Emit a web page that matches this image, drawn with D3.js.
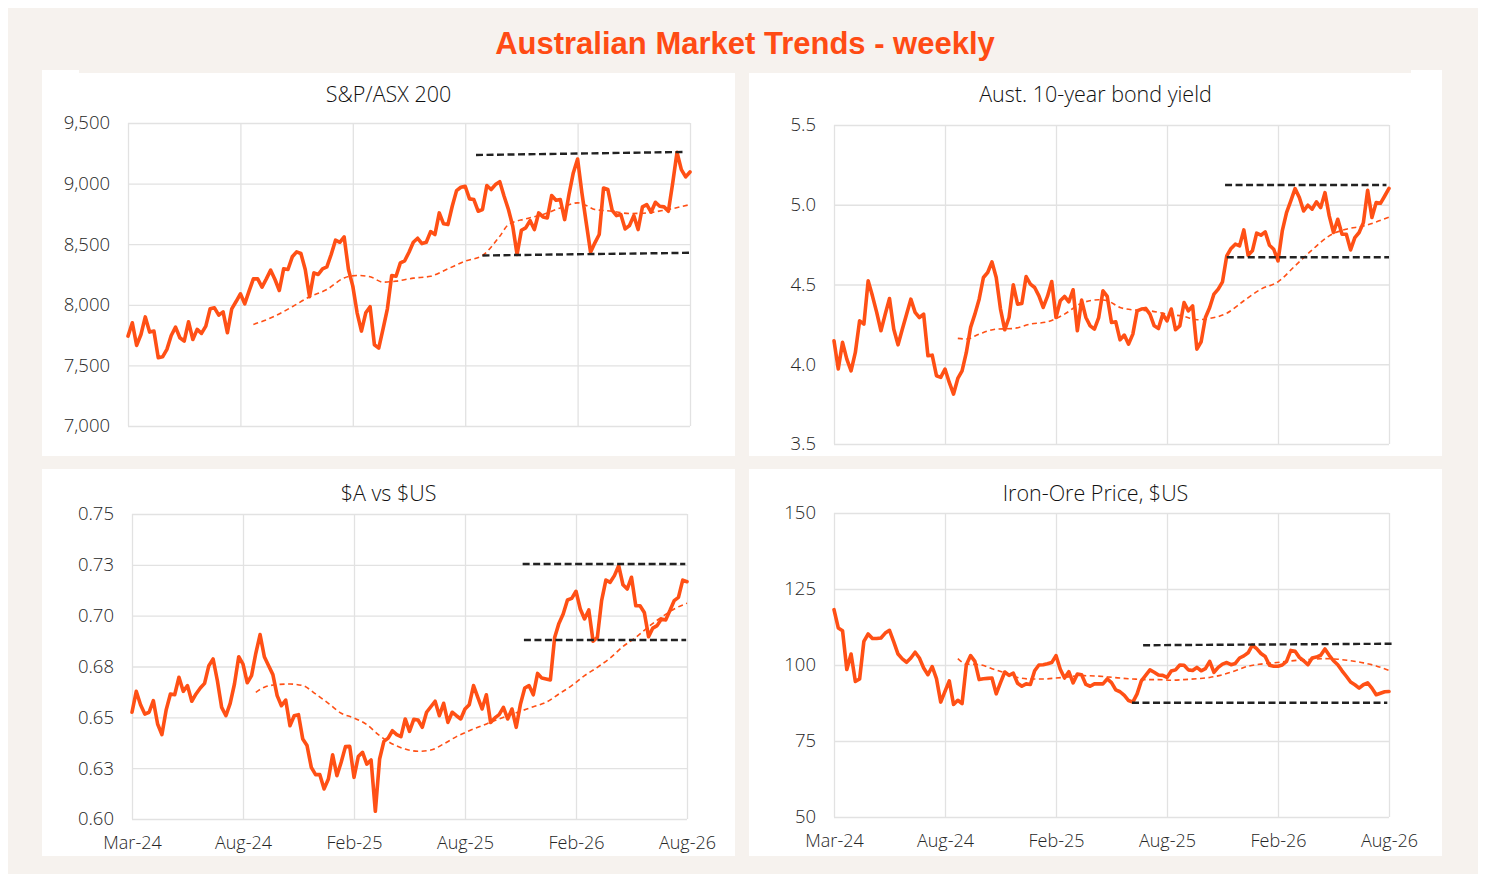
<!DOCTYPE html>
<html><head><meta charset="utf-8">
<script src="https://cdn.jsdelivr.net/npm/d3@7"></script>
<style>
html,body{margin:0;padding:0;background:#fff;}
svg{display:block;}
</style></head>
<body>
<svg id="chart" width="1486" height="882"></svg>
<script>
// ---------- DATA ----------
const xTickIdx = [0, 26, 52, 78, 104, 130];
const xTickLabels = ["Mar-24", "Aug-24", "Feb-25", "Aug-25", "Feb-26", "Aug-26"];

const asxValues = [7742,7852,7665,7755,7900,7775,7783,7563,7571,7632,
7747,7816,7728,7700,7860,7714,7797,7764,7824,7967,
7975,7915,7942,7769,7967,8027,8091,8008,8113,8214,
8214,8146,8214,8286,8209,8118,8297,8291,8396,8437,
8423,8291,8066,8264,8250,8297,8313,8415,8533,8516,
8560,8291,8154,7934,7783,7934,7984,7670,7643,7802,
7967,8242,8236,8346,8363,8434,8516,8549,8505,8516,
8604,8580,8758,8668,8662,8813,8942,8970,8978,8874,
8868,8772,8786,8984,8951,8992,9016,8896,8786,8648,
8415,8615,8635,8695,8621,8758,8725,8717,8901,8863,
8868,8703,8909,9088,9203,8923,8676,8434,8511,8580,
8964,8951,8780,8736,8745,8626,8654,8736,8621,8808,
8827,8764,8846,8813,8808,8772,9005,9258,9115,9055,
9096];
const asxMAIdx = [29,34,38,42,46,50,53,56,59,62,66,70,74,78,82,86,88,92,96,100,104,106,108,112,116,120,124,130];
const asxMAValues = [7838,7907,7984,8066,8126,8222,8242,8231,8187,8195,8220,8236,8297,8360,8407,8566,8662,8709,8745,8799,8841,8819,8786,8772,8753,8758,8780,8827];
const asxLevels = [{from:80.5, to:129, start:9236, end:9261},{from:82, to:130, start:8407, end:8429}];
const asxTicks = [7000, 7500, 8000, 8500, 9000, 9500];
const asxTickLabels = ["7,000", "7,500", "8,000", "8,500", "9,000", "9,500"];

const bondValues = [4.147,3.970,4.137,4.032,3.959,4.074,4.272,4.252,4.523,4.429,
4.325,4.210,4.314,4.412,4.220,4.122,4.220,4.314,4.408,4.325,
4.293,4.314,4.053,4.057,3.928,3.918,3.970,3.886,3.813,3.911,
3.959,4.074,4.231,4.314,4.408,4.544,4.575,4.642,4.544,4.346,
4.216,4.293,4.498,4.377,4.381,4.550,4.502,4.481,4.429,4.356,
4.425,4.519,4.293,4.398,4.425,4.391,4.467,4.210,4.402,4.293,
4.241,4.220,4.293,4.460,4.425,4.262,4.266,4.153,4.183,4.126,
4.189,4.335,4.346,4.350,4.314,4.241,4.224,4.314,4.272,4.346,
4.216,4.241,4.387,4.335,4.366,4.095,4.141,4.293,4.356,4.440,
4.471,4.517,4.680,4.726,4.753,4.742,4.842,4.684,4.711,4.822,
4.809,4.830,4.746,4.721,4.648,4.836,4.951,5.024,5.101,5.045,
4.961,4.997,4.972,5.018,4.982,5.076,4.930,4.826,4.909,4.815,
4.815,4.717,4.794,4.826,4.888,5.091,4.920,5.014,5.009,5.055,
5.103];
const bondMAIdx = [29,31,34,38,42,46,50,54,58,62,64,67,70,74,78,82,85,88,92,96,100,104,108,112,116,120,124,127,130];
const bondMAValues = [4.162,4.158,4.189,4.220,4.224,4.252,4.266,4.314,4.383,4.404,4.398,4.356,4.341,4.335,4.314,4.300,4.279,4.287,4.320,4.398,4.471,4.517,4.617,4.717,4.805,4.847,4.867,4.892,4.922];
const bondLevels = [{from:91.6, to:129.4, start:5.124, end:5.124},{from:92, to:130, start:4.671, end:4.671}];
const bondTicks = [3.5, 4.0, 4.5, 5.0, 5.5];
const bondTickLabels = ["3.5", "4.0", "4.5", "5.0", "5.5"];

const audValues = [0.6525,0.6628,0.6562,0.6516,0.6525,0.6582,0.6467,0.6415,0.6536,0.6615,
0.6611,0.6697,0.6628,0.6656,0.6579,0.6615,0.6644,0.6667,0.6754,0.6787,
0.6680,0.6549,0.6508,0.6569,0.6664,0.6798,0.6762,0.6670,0.6705,0.6815,
0.6907,0.6798,0.6754,0.6710,0.6607,0.6557,0.6585,0.6459,0.6508,0.6513,
0.6393,0.6361,0.6254,0.6218,0.6218,0.6148,0.6197,0.6316,0.6213,0.6279,
0.6356,0.6357,0.6205,0.6307,0.6328,0.6270,0.6290,0.6038,0.6295,0.6382,
0.6398,0.6434,0.6415,0.6405,0.6492,0.6431,0.6490,0.6487,0.6451,0.6525,
0.6552,0.6579,0.6508,0.6569,0.6475,0.6525,0.6508,0.6492,0.6541,0.6562,
0.6656,0.6598,0.6541,0.6611,0.6475,0.6497,0.6513,0.6549,0.6492,0.6541,
0.6451,0.6566,0.6644,0.6656,0.6611,0.6716,0.6693,0.6689,0.6684,0.6893,
0.6962,0.7008,0.7077,0.7085,0.7120,0.7033,0.6984,0.7028,0.6874,0.6893,
0.7074,0.7175,0.7164,0.7197,0.7246,0.7152,0.7131,0.7189,0.7049,0.7049,
0.7016,0.6897,0.6939,0.6951,0.6984,0.6979,0.7025,0.7074,0.7090,0.7175,
0.7167];
const audMAIdx = [29,31,34,37,40,43,46,49,52,55,58,61,64,67,70,73,76,79,82,85,88,91,94,97,100,103,106,109,112,115,118,121,124,127,130];
const audMAValues = [0.6623,0.6648,0.6661,0.6664,0.6656,0.6615,0.6569,0.6520,0.6497,0.6464,0.6410,0.6369,0.6344,0.6333,0.6339,0.6369,0.6405,0.6434,0.6459,0.6484,0.6508,0.6530,0.6552,0.6574,0.6615,0.6656,0.6705,0.6746,0.6792,0.6848,0.6893,0.6946,0.6992,0.7033,0.7061];
const audLevels = [{from:91.5, to:129.6, start:0.7254, end:0.7254},{from:91.8, to:129.8, start:0.688, end:0.688}];
const audTicks = [0.6, 0.625, 0.65, 0.675, 0.7, 0.725, 0.75];
const audTickLabels = ["0.60", "0.63", "0.65", "0.68", "0.70", "0.73", "0.75"];

const ironValues = [118.2,112.2,111.3,98.5,103.6,94.6,95.4,107.8,110.2,108.7,
108.7,108.9,110.5,111.4,107.6,103.6,102.0,100.9,102.3,104.2,
102.3,99.0,96.8,99.5,95.5,87.8,91.3,94.8,87.0,88.4,
87.3,100.1,103.1,101.2,95.2,95.5,95.6,95.7,90.5,94.2,
97.7,96.6,97.3,94.0,93.0,93.8,93.6,98.1,100.0,100.1,
100.4,100.8,103.1,98.6,95.7,97.8,94.1,97.0,96.8,93.6,
93.0,93.8,93.8,93.8,95.4,94.2,91.8,91.2,90.0,88.3,
87.8,90.5,94.8,96.6,98.4,97.6,96.7,96.6,95.9,98.0,
98.4,100.0,99.9,98.4,98.2,99.2,98.1,98.8,101.2,97.6,
99.2,100.3,100.8,100.1,100.5,102.3,103.0,104.0,106.5,105.4,
103.8,102.8,99.9,99.6,99.6,100.0,101.2,104.8,104.5,102.5,
101.4,100.1,102.3,102.6,103.2,105.3,103.2,101.4,100.1,98.1,
96.3,94.4,93.5,92.4,93.5,94.1,92.4,90.2,90.7,91.2,
91.3];
const ironMAIdx = [29,31,34,37,40,43,46,49,52,55,58,61,64,67,70,73,76,79,82,85,88,91,94,97,100,103,106,109,112,115,118,121,124,127,130];
const ironMAValues = [102.1,100.3,100.1,98.8,97.4,95.9,95.4,95.4,95.7,96.1,96.5,96.4,96.1,95.7,95.4,95.2,95.2,95.0,95.2,95.5,95.9,96.8,98.1,99.6,100.3,100.7,101.2,101.6,101.9,102.1,101.9,101.4,100.7,99.7,98.2];
const ironLevels = [{from:72.4, to:130.6, start:106.5, end:107.0},{from:69.8, to:129.6, start:87.6, end:87.6}];
const ironTicks = [50, 75, 100, 125, 150];
const ironTickLabels = ["50", "75", "100", "125", "150"];

const chartTitle = "Australian Market Trends - weekly";

// ---------- STYLE / LAYOUT ----------
const ORANGE = "#FF5015";
const BEIGE = "#F6F2EE";
const GRID = "#E2E2E2";
const TEXT = "#262626";
const FONT = "'Open Sans', 'Noto Sans', sans-serif";

const svg = d3.select("#chart");
svg.append("rect").attr("x", 8).attr("y", 8).attr("width", 1470).attr("height", 866).attr("fill", BEIGE);

const panels = [
  {title:"S&P/ASX 200", values:asxValues, maIdx:asxMAIdx, maVals:asxMAValues, levels:asxLevels, ticks:asxTicks, tickLabels:asxTickLabels,
   box:[42,70,693,386], plot:{l:128,r:690,t:123,b:426}, titleY:102, showX:false},
  {title:"Aust. 10-year bond yield", values:bondValues, maIdx:bondMAIdx, maVals:bondMAValues, levels:bondLevels, ticks:bondTicks, tickLabels:bondTickLabels,
   box:[749,70,693,386], plot:{l:834,r:1389,t:125,b:444}, titleY:102, showX:false},
  {title:"$A vs $US", values:audValues, maIdx:audMAIdx, maVals:audMAValues, levels:audLevels, ticks:audTicks, tickLabels:audTickLabels,
   box:[42,469,693,387], plot:{l:132,r:687,t:514,b:819}, titleY:501, showX:true},
  {title:"Iron-Ore Price, $US", values:ironValues, maIdx:ironMAIdx, maVals:ironMAValues, levels:ironLevels, ticks:ironTicks, tickLabels:ironTickLabels,
   box:[749,469,693,387], plot:{l:834,r:1389,t:513,b:817}, titleY:501, showX:true}
];

panels.forEach(p => {
  const g = svg.append("g");
  g.append("rect").attr("x", p.box[0]).attr("y", p.box[1]).attr("width", p.box[2]).attr("height", p.box[3]).attr("fill", "#fff");

  const x = d3.scaleLinear().domain([0, p.values.length - 1]).range([p.plot.l, p.plot.r]);
  const y = d3.scaleLinear().domain(d3.extent(p.ticks)).range([p.plot.b, p.plot.t]);

  // horizontal grid + y labels
  const yAxis = g.append("g").attr("transform", `translate(${p.plot.l},0)`)
    .call(d3.axisLeft(y).tickValues(p.ticks).tickFormat((d, i) => p.tickLabels[i]).tickSize(-(p.plot.r - p.plot.l)).tickPadding(18));
  yAxis.select(".domain").remove();
  yAxis.selectAll(".tick line").attr("stroke", GRID).attr("stroke-width", 1.3);
  yAxis.selectAll(".tick text").attr("fill", TEXT).style("font-family", FONT).style("font-size", "18.5px").style("font-weight", 300);

  // vertical grid + x labels
  const xAxis = g.append("g").attr("transform", `translate(0,${p.plot.b})`)
    .call(d3.axisBottom(x).tickValues(xTickIdx).tickFormat((d, i) => p.showX ? xTickLabels[i] : "").tickSize(-(p.plot.b - p.plot.t)).tickPadding(17));
  xAxis.select(".domain").remove();
  xAxis.selectAll(".tick line").attr("stroke", GRID).attr("stroke-width", 1.3);
  xAxis.selectAll(".tick text").attr("fill", TEXT).style("font-family", FONT).style("font-size", "18px").style("font-weight", 300);

  // title
  g.append("text").attr("x", p.box[0] + p.box[2] / 2).attr("y", p.titleY).attr("text-anchor", "middle")
    .attr("fill", "#111").style("font-family", FONT).style("font-size", "21.5px").style("font-weight", 300).text(p.title);

  // moving average (dashed)
  const maData = p.maIdx.map((d, i) => [d, p.maVals[i]]);
  g.append("path").datum(maData)
    .attr("d", d3.line().x(d => x(d[0])).y(d => y(d[1])).curve(d3.curveMonotoneX))
    .attr("fill", "none").attr("stroke", ORANGE).attr("stroke-width", 1.6).attr("stroke-dasharray", "5,3.5");

  // main series
  g.append("path").datum(p.values)
    .attr("d", d3.line().x((d, i) => x(i)).y(d => y(d)))
    .attr("fill", "none").attr("stroke", ORANGE).attr("stroke-width", 3.6)
    .attr("stroke-linejoin", "round").attr("stroke-linecap", "round");

  // range lines
  g.selectAll(".lvl").data(p.levels).enter().append("line")
    .attr("x1", d => x(d.from)).attr("x2", d => x(d.to))
    .attr("y1", d => y(d.start)).attr("y2", d => y(d.end))
    .attr("stroke", "#222").attr("stroke-width", 2.4).attr("stroke-dasharray", "7,3.5");
});

// title band overlay
svg.append("rect").attr("x", 79).attr("y", 60).attr("width", 1332).attr("height", 13).attr("fill", BEIGE);

svg.append("text").attr("x", 745).attr("y", 54).attr("text-anchor", "middle")
  .attr("fill", "#FF4B14").style("font-family", "'Liberation Sans', Arial, sans-serif")
  .style("font-weight", "bold").style("font-size", "31px").text(chartTitle);
</script>
</body></html>
